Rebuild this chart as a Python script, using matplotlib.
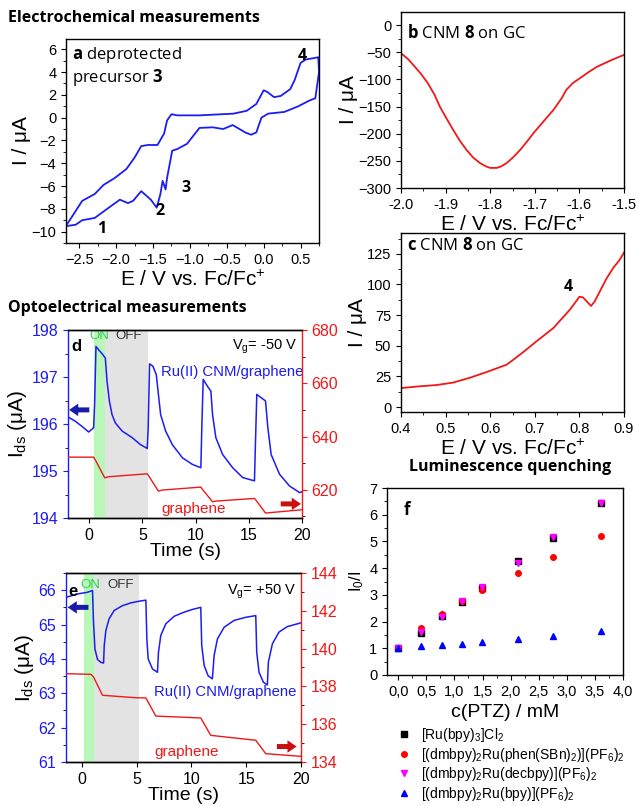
import numpy as np
import matplotlib.pyplot as plt
from matplotlib.ticker import MultipleLocator, FuncFormatter

plt.rcParams['font.family'] = ['Liberation Sans', 'DejaVu Sans']
plt.rcParams['mathtext.fontset'] = 'custom'
plt.rcParams['mathtext.rm'] = 'Liberation Sans'
plt.rcParams['mathtext.it'] = 'Liberation Sans:italic'
plt.rcParams['mathtext.bf'] = 'Open Sans:bold'
plt.rcParams['axes.linewidth'] = 1.0
plt.rcParams['xtick.major.size'] = 3.5
plt.rcParams['ytick.major.size'] = 3.5
plt.rcParams['xtick.minor.size'] = 2
plt.rcParams['ytick.minor.size'] = 2

# (a) CV of deprotected precursor 3, closed loop
cv_e = [-2.66, -2.56, -2.46, -2.29, -2.17, -2.02, -1.86, -1.75, -1.66, -1.57, -1.44, -1.35, -1.31,
        -1.25, -1.17, -0.87, -0.41, -0.23, -0.10, 0.00, 0.05, 0.14, 0.23, 0.36, 0.42, 0.50,
        0.57, 0.66, 0.74, 0.75, 0.70, 0.62, 0.47, 0.28, 0.06, -0.03, -0.10, -0.17, -0.25,
        -0.42, -0.55, -0.69, -0.87, -1.04, -1.17, -1.24, -1.31, -1.33, -1.37, -1.40, -1.45,
        -1.53, -1.66, -1.77, -1.84, -1.95, -2.10, -2.29, -2.46, -2.55, -2.66]
cv_i = [-9.3, -8.3, -7.3, -6.7, -5.9, -5.3, -4.5, -3.5, -2.5, -2.4, -2.4, -1.4, -0.25,
        0.3, 0.2, 0.2, 0.35, 0.6, 1.2, 2.4, 2.25, 1.8, 1.9, 2.5, 3.3, 4.8,
        5.1, 5.2, 5.3, 4.0, 1.7, 1.5, 1.0, 0.5, 0.35, 0.0, -1.3, -1.5, -1.3,
        -0.65, -1.0, -0.85, -0.9, -2.3, -2.75, -2.9, -5.3, -6.3, -5.55, -6.7, -7.9,
        -7.2, -6.45, -7.3, -7.5, -7.2, -7.9, -8.8, -9.0, -9.4, -9.5]

# (b) CNM 8 on GC, reduction
b_e = [-2.0, -1.985, -1.972, -1.955, -1.94, -1.925, -1.913, -1.898, -1.883, -1.868, -1.853,
       -1.838, -1.823, -1.81, -1.80, -1.785, -1.775, -1.763, -1.748, -1.733, -1.718,
       -1.703, -1.68, -1.658, -1.64, -1.629, -1.615, -1.599, -1.58, -1.561, -1.54, -1.524, -1.5]
b_i = [-52, -62, -74, -90, -107, -128, -150, -172, -193, -213, -230,
       -244, -254, -260, -263, -263, -260, -254, -243, -230, -215,
       -199, -177, -156, -135, -119, -107, -98, -87, -77, -69, -63, -55]

# (c) CNM 8 on GC, oxidation
c_e = [0.40, 0.443, 0.48, 0.517, 0.555, 0.592, 0.637, 0.667, 0.704, 0.742, 0.779, 0.792, 0.80,
       0.808, 0.817, 0.826, 0.834, 0.846, 0.861, 0.876, 0.89, 0.90]
c_i = [15.5, 17, 18, 20, 24, 28.6, 34.6, 42.8, 53.7, 64.6, 79.6, 86, 90,
       89.5, 86, 82.5, 86, 94.5, 105, 113.6, 120, 126]

# (d) Vg = -50 V
d_t = [-2.0, -1.32, -0.69, -0.06, 0.41, 0.5, 0.63, 0.88, 1.26, 1.51, 1.67, 1.89, 2.14, 2.46,
       3.09, 4.03, 4.82, 5.45, 5.54, 5.67, 5.98, 6.3, 6.5, 6.71, 7.18, 7.81, 8.76, 9.7,
       10.49, 10.58, 10.71, 11.12, 11.43, 11.59, 11.9, 12.54, 13.48, 14.43, 15.53, 15.62,
       15.75, 16.16, 16.57, 16.79, 17.1, 17.89, 18.83, 19.78, 20.0]
d_ids = [196.15, 196.06, 195.95, 195.83, 195.92, 196.41, 197.65, 197.58, 197.48, 197.4,
         196.91, 196.49, 196.2, 196.02, 195.85, 195.71, 195.56, 195.48, 195.92, 197.28,
         197.23, 197.05, 196.63, 196.2, 195.85, 195.56, 195.28, 195.14, 195.07, 195.92,
         196.95, 196.8, 196.7, 196.2, 195.71, 195.35, 195.07, 194.86, 194.79, 195.56,
         196.63, 196.56, 196.49, 195.92, 195.35, 194.93, 194.68, 194.54, 194.56]
d_gt = [-2.0, 0.41, 0.63, 1.45, 1.83, 5.45, 5.61, 6.49, 6.87, 10.49, 10.65, 11.59, 11.9,
        15.53, 15.69, 16.57, 16.95, 20.0]
d_gi = [632.25, 632.25, 630.75, 624.5, 624.9, 626.0, 625.1, 619.5, 619.9, 621.0, 620.1,
        615.5, 615.75, 616.75, 616.0, 611.25, 611.4, 612.5]

# (e) Vg = +50 V
e_t = [-1.37, -0.4, 0.52, 0.97, 1.06, 1.19, 1.43, 1.73, 1.98, 2.04, 2.19, 2.49, 2.95, 3.71,
       4.47, 5.23, 5.84, 5.93, 6.05, 6.44, 6.9, 6.99, 7.2, 7.66, 8.42, 9.33, 10.09, 10.85,
       10.94, 11.16, 11.52, 11.91, 12.07, 12.37, 12.98, 13.89, 14.95, 15.87, 15.96, 16.17,
       16.57, 16.93, 17.02, 17.39, 17.99, 18.75, 20.0]
e_ids = [65.8, 65.89, 65.94, 65.99, 65.07, 64.29, 63.98, 63.9, 63.88, 64.39, 64.83, 65.17,
         65.41, 65.55, 65.63, 65.68, 65.71, 64.58, 64.0, 63.71, 63.61, 64.19, 64.68, 65.02,
         65.24, 65.36, 65.44, 65.5, 64.39, 63.81, 63.51, 63.42, 64.1, 64.58, 64.92, 65.12,
         65.21, 65.26, 64.19, 63.61, 63.32, 63.24, 63.9, 64.44, 64.78, 64.94, 65.05]
e_gt = [-1.37, 0.82, 1.06, 1.88, 4.93, 5.84, 6.75, 10.85, 11.76, 15.87, 16.78, 20.0]
e_gi = [138.67, 138.64, 138.5, 137.53, 137.4, 137.39, 136.43, 136.33, 135.41, 135.15,
        134.44, 134.3]

# (f) Stern-Volmer quenching
ptz = [0.0, 0.40, 0.77, 1.14, 1.49, 2.14, 2.76, 3.61]
q_rubpy = [1.0, 1.57, 2.2, 2.75, 3.25, 4.25, 5.13, 6.43]
q_phen = [1.0, 1.75, 2.27, 2.76, 3.17, 3.8, 4.4, 5.2]
q_decbpy = [1.0, 1.62, 2.18, 2.76, 3.28, 4.2, 5.18, 6.43]
q_bpy = [1.0, 1.1, 1.12, 1.15, 1.22, 1.33, 1.47, 1.63]
f_labels = [r'[Ru(bpy)$_3$]Cl$_2$',
            r'[(dmbpy)$_2$Ru(phen(SBn)$_2$)](PF$_6$)$_2$',
            r'[(dmbpy)$_2$Ru(decbpy)](PF$_6$)$_2$',
            r'[(dmbpy)$_2$Ru(bpy)](PF$_6$)$_2$']

W, H = 638, 806
fig = plt.figure(figsize=(W / 100, H / 100), dpi=100)


def px_axes(l, t, r, b):
    return fig.add_axes([l / W, 1 - b / H, (r - l) / W, (b - t) / H])


BLUE = '#1c1cf5'
RED = '#f01818'
LAB = 15
TICK = 10.5
OPEN = ['Open Sans', 'DejaVu Sans']
ARROW = 'simple,head_length=0.55,head_width=0.75,tail_width=0.3'

fig.text(8 / W, 1 - 18 / H, 'Electrochemical measurements', family=OPEN, weight='bold',
         fontsize=11.5, va='center', ha='left')
fig.text(8 / W, 1 - 308 / H, 'Optoelectrical measurements', family=OPEN, weight='bold',
         fontsize=11.5, va='center', ha='left')
fig.text(510 / W, 1 - 467 / H, 'Luminescence quenching', family=OPEN, weight='bold',
         fontsize=11.5, va='center', ha='center')

# ---- a
ax = px_axes(66, 39, 319, 243)
ax.plot(cv_e, cv_i, color=BLUE, lw=1.3)
ax.set_xlim(-2.68, 0.75)
ax.set_ylim(-11, 6.9)
ax.xaxis.set_major_locator(MultipleLocator(0.5))
ax.xaxis.set_minor_locator(MultipleLocator(0.25))
ax.yaxis.set_major_locator(MultipleLocator(2))
ax.yaxis.set_minor_locator(MultipleLocator(1))
ax.tick_params(labelsize=TICK)
ax.set_xlabel(r'E / V vs. Fc/Fc$^{+}$', fontsize=LAB, labelpad=2)
ax.set_ylabel(r'I / μA', fontsize=LAB, labelpad=0)
ax.text(0.025, 0.97, r'$\mathbf{a}$ deprotected' + '\n' + r'precursor $\mathbf{3}$', family=OPEN,
        fontsize=12, transform=ax.transAxes, va='top', ha='left', linespacing=1.15)
for txt, x, y in [('1', -2.2, -9.8), ('2', -1.4, -8.2), ('3', -1.05, -6.2), ('4', 0.52, 5.4)]:
    ax.text(x, y, txt, family=OPEN, weight='bold', fontsize=11.5, ha='center', va='center')

# ---- b
ax = px_axes(401, 12, 624, 188)
ax.plot(b_e, b_i, color=RED, lw=1.3)
ax.set_xlim(-2.0, -1.5)
ax.set_ylim(-300, 24)
ax.xaxis.set_major_locator(MultipleLocator(0.1))
ax.xaxis.set_minor_locator(MultipleLocator(0.05))
ax.yaxis.set_major_locator(MultipleLocator(50))
ax.yaxis.set_minor_locator(MultipleLocator(25))
ax.xaxis.set_major_formatter(FuncFormatter(lambda v, p: f'{v:.1f}'))
ax.tick_params(labelsize=TICK)
ax.set_xlabel(r'E / V vs. Fc/Fc$^{+}$', fontsize=LAB, labelpad=2)
ax.set_ylabel(r'I / μA', fontsize=LAB, labelpad=0)
ax.text(0.025, 0.93, r'$\mathbf{b}$ CNM $\mathbf{8}$ on GC', family=OPEN, fontsize=12,
        transform=ax.transAxes, va='top', ha='left')

# ---- c
ax = px_axes(401, 233, 624, 412)
ax.plot(c_e, c_i, color=RED, lw=1.3)
ax.set_xlim(0.4, 0.9)
ax.set_ylim(-4, 142)
ax.xaxis.set_major_locator(MultipleLocator(0.1))
ax.xaxis.set_minor_locator(MultipleLocator(0.05))
ax.yaxis.set_major_locator(MultipleLocator(25))
ax.yaxis.set_minor_locator(MultipleLocator(12.5))
ax.tick_params(labelsize=TICK)
ax.set_xlabel(r'E / V vs. Fc/Fc$^{+}$', fontsize=LAB, labelpad=2)
ax.set_ylabel(r'I / μA', fontsize=LAB, labelpad=0)
ax.text(0.025, 0.98, r'$\mathbf{c}$ CNM $\mathbf{8}$ on GC', family=OPEN, fontsize=12,
        transform=ax.transAxes, va='top', ha='left')
ax.text(0.775, 98, '4', family=OPEN, weight='bold', fontsize=11.5, ha='center', va='center')


def style_twin(axl, axr):
    axl.spines['left'].set_color(BLUE)
    axl.spines['right'].set_visible(False)
    axr.spines['right'].set_color(RED)
    axr.spines['left'].set_visible(False)
    axl.tick_params(axis='y', colors=BLUE, labelsize=TICK + 1)
    axr.tick_params(axis='y', colors=RED, labelsize=TICK + 1)
    axl.tick_params(axis='x', labelsize=TICK + 1)
    axl.set_xlabel('Time (s)', fontsize=LAB - 1, labelpad=0)
    axl.set_ylabel(r'I$_{\mathrm{ds}}$ (μA)', fontsize=LAB, labelpad=2)
    axl.xaxis.set_major_locator(MultipleLocator(5))


def arrow(ax, x0, x1, y, color):
    ax.annotate('', xy=(x1, y), xytext=(x0, y),
                arrowprops=dict(arrowstyle=ARROW, color=color, lw=0, mutation_scale=12,
                                shrinkA=0, shrinkB=0))


# ---- d
ax = px_axes(68, 330, 302, 518)
ax2 = ax.twinx()
ax.axvspan(0.47, 1.5, color='#b9f7b9', lw=0)
ax.axvspan(1.5, 5.5, color='#e3e3e3', lw=0)
ax.plot(d_t, d_ids, color=BLUE, lw=1.1)
ax2.plot(d_gt, d_gi, color=RED, lw=1.0)
ax.set_xlim(-2, 20)
ax.set_ylim(194, 198)
ax2.set_ylim(609.4, 680)
ax.yaxis.set_major_locator(MultipleLocator(1))
ax.yaxis.set_minor_locator(MultipleLocator(0.5))
ax2.yaxis.set_major_locator(MultipleLocator(20))
ax2.yaxis.set_minor_locator(MultipleLocator(10))
style_twin(ax, ax2)
ax.text(-1.7, 197.65, 'd', weight='bold', fontsize=12, va='center')
ax.text(0.95, 197.88, 'ON', color='#2ad24a', fontsize=9.5, ha='center', va='center')
ax.text(3.7, 197.88, 'OFF', color='#333333', fontsize=9.5, ha='center', va='center')
ax.text(19.6, 197.65, r'V$_{\mathrm{g}}$= -50 V', fontsize=10.5, ha='right', va='center')
ax.text(6.7, 197.1, 'Ru(II) CNM/graphene', color=BLUE, fontsize=10.7, ha='left', va='center')
ax.text(6.8, 194.2, 'graphene', color=RED, fontsize=11, ha='left', va='center')
arrow(ax, 0.0, -1.9, 196.3, '#1a1aa8')
arrow(ax, 18.0, 19.9, 194.3, '#c81010')

# ---- e
ax = px_axes(66, 573, 301, 762)
ax2 = ax.twinx()
ax.axvspan(0.15, 1.1, color='#b9f7b9', lw=0)
ax.axvspan(1.1, 5.2, color='#e3e3e3', lw=0)
ax.plot(e_t, e_ids, color=BLUE, lw=1.1)
ax2.plot(e_gt, e_gi, color=RED, lw=1.0)
ax.set_xlim(-1.45, 20)
ax.set_ylim(61, 66.5)
ax2.set_ylim(134, 144)
ax.yaxis.set_major_locator(MultipleLocator(1))
ax.yaxis.set_minor_locator(MultipleLocator(0.5))
ax2.yaxis.set_major_locator(MultipleLocator(2))
ax2.yaxis.set_minor_locator(MultipleLocator(1))
style_twin(ax, ax2)
ax.text(-1.2, 65.95, 'e', weight='bold', fontsize=12, va='center')
ax.text(0.75, 66.15, 'ON', color='#2ad24a', fontsize=9.5, ha='center', va='center')
ax.text(3.5, 66.15, 'OFF', color='#333333', fontsize=9.5, ha='center', va='center')
ax.text(19.6, 65.95, r'V$_{\mathrm{g}}$= +50 V', fontsize=10.5, ha='right', va='center')
ax.text(19.6, 63.05, 'Ru(II) CNM/graphene', color=BLUE, fontsize=10.7, ha='right', va='center')
ax.text(6.6, 61.3, 'graphene', color=RED, fontsize=11, ha='left', va='center')
arrow(ax, 0.6, -1.3, 65.5, '#1a1aa8')
arrow(ax, 17.8, 19.6, 61.45, '#c81010')

# ---- f
ax = px_axes(387, 488, 623, 675)
h1, = ax.plot(ptz, q_rubpy, 's', color='black', ms=4, ls='none')
h2, = ax.plot(ptz, q_phen, 'o', color='red', ms=4, ls='none')
h3, = ax.plot(ptz, q_decbpy, 'v', color='magenta', ms=4.5, ls='none')
h4, = ax.plot(ptz, q_bpy, '^', color='blue', ms=4.5, ls='none')
ax.set_xlim(-0.2, 4.0)
ax.set_ylim(0, 7)
ax.xaxis.set_major_locator(MultipleLocator(0.5))
ax.xaxis.set_minor_locator(MultipleLocator(0.25))
ax.yaxis.set_major_locator(MultipleLocator(1))
ax.yaxis.set_minor_locator(MultipleLocator(0.5))
ax.xaxis.set_major_formatter(FuncFormatter(lambda v, p: f'{v:.1f}'.replace('.', ',')))
ax.tick_params(labelsize=TICK)
ax.set_xlabel('c(PTZ) / mM', fontsize=LAB - 1, labelpad=4)
ax.set_ylabel(r'I$_0$/I', fontsize=12, labelpad=2)
ax.text(0.07, 0.93, 'f', family=OPEN, weight='bold', fontsize=12, transform=ax.transAxes,
        va='top', ha='left')
fig.legend([h1, h2, h3, h4], f_labels, loc='upper left',
           bbox_to_anchor=(389 / W, 1 - 719 / H), frameon=False, fontsize=10,
           handletextpad=0.6, labelspacing=0.12, handlelength=1.2, borderpad=0)

fig.savefig('out.png', dpi=100)
